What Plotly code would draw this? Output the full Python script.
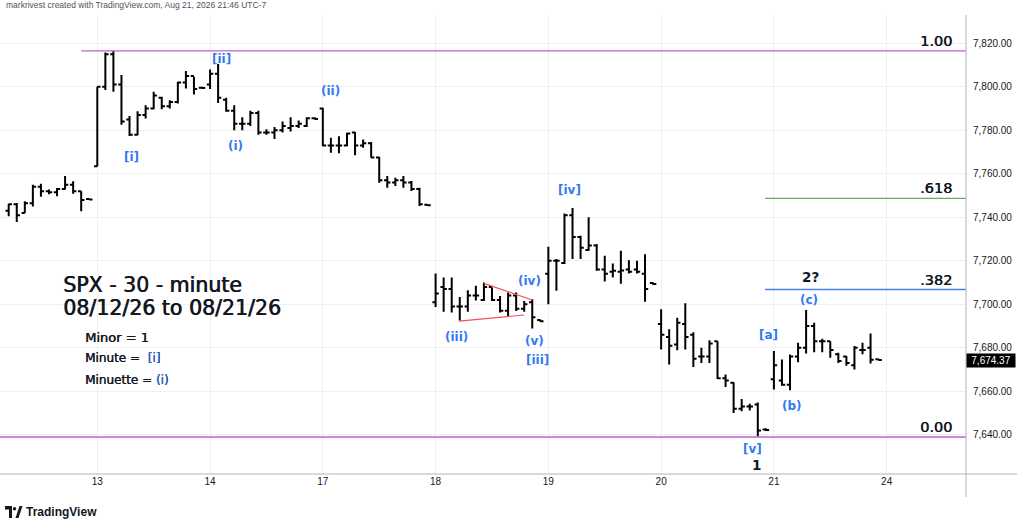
import plotly.graph_objects as go

# ---------------- data ----------------
day_labels = ["13", "14", "17", "18", "19", "20", "21", "24"]
day_tick_index = [11, 25, 39, 53, 67, 81, 95, 109]
y_ticks = [7640, 7660, 7680, 7700, 7720, 7740, 7760, 7780, 7800, 7820]

# 30-minute bars, Aug 12 (partial) .. Aug 21
opens = [
    7743, 7746, 7742, 7746.5, 7754, 7752, 7751.5, 7753, 7755, 7752, 7748.4,
    7763.5, 7800, 7815, 7801, 7785, 7778, 7787, 7790, 7795, 7791, 7793, 7802, 7805, 7799.5,
    7801, 7806, 7794, 7789, 7783, 7783, 7788, 7779, 7779, 7780, 7781, 7782, 7782, 7785.5,
    7790, 7773, 7773, 7773, 7779, 7773, 7774, 7767.5, 7757, 7756, 7757, 7756, 7753, 7745.8,
    7701, 7708, 7707, 7699, 7699, 7704, 7702, 7708, 7702, 7697, 7704, 7698, 7701, 7692.8,
    7714, 7720, 7719, 7741, 7731, 7725, 7727, 7716, 7715, 7715, 7716, 7716, 7714, 7709.8,
    7691, 7685, 7681.5, 7691, 7686, 7676, 7676, 7683, 7666, 7664, 7652, 7653, 7654, 7642.5,
    7665.5, 7665, 7663, 7676, 7680, 7690, 7683, 7683, 7677, 7676, 7672, 7679, 7680, 7674.8,
]
highs = [
    7746.2, 7746.6, 7747.4, 7755, 7755.4, 7752.8, 7753.5, 7759, 7756.6, 7752, 7748.6,
    7800, 7815.8, 7816.5, 7805.4, 7786.6, 7788.8, 7791.5, 7797.7, 7795.4, 7793.8, 7802.3, 7807.2, 7804.6, 7800,
    7808, 7810.5, 7795, 7791.5, 7786, 7789, 7789, 7780.5, 7781.5, 7784, 7786, 7784.5, 7786, 7786,
    7790.4, 7776.6, 7777.3, 7778.9, 7779.2, 7775.8, 7774.6, 7767.8, 7759, 7758.2, 7759, 7756.7, 7753.6, 7746,
    7714.2, 7712.3, 7712.3, 7703.4, 7706.5, 7708.5, 7710, 7707.7, 7703.8, 7705.4, 7705.4, 7701.5, 7702.3, 7693,
    7726.5, 7720.8, 7741.8, 7744.3, 7731.5, 7740, 7727.7, 7722.3, 7718.8, 7724.6, 7720.3, 7720, 7723, 7710,
    7697.7, 7688.5, 7693.8, 7700.5, 7687.2, 7680, 7683.5, 7683, 7667.7, 7664.2, 7656.5, 7654.3, 7654.9, 7643,
    7678.5, 7674.6, 7676.9, 7682.3, 7697.4, 7691.5, 7684.2, 7683, 7677.7, 7676.2, 7680.8, 7682.3, 7686.6, 7675,
]
lows = [
    7740.5, 7737.8, 7742, 7745, 7749.4, 7750.6, 7749.7, 7752.8, 7750.8, 7742.8, 7748,
    7763.5, 7798.5, 7797.7, 7782.6, 7777.4, 7777.7, 7785.4, 7789.7, 7789.7, 7790, 7792.3, 7799.2, 7796.5, 7799,
    7799, 7792.5, 7788.5, 7780, 7780, 7782, 7778, 7778, 7776, 7779, 7779.5, 7781, 7781.5, 7785,
    7772.7, 7769.7, 7769.4, 7772.7, 7768.5, 7772, 7767.4, 7755.9, 7753.6, 7754.4, 7753.6, 7752.1, 7745.2, 7745.2,
    7698.8, 7696.6, 7696.2, 7692.6, 7696.6, 7701.8, 7701.5, 7701.5, 7696.2, 7694.6, 7696.9, 7696.6, 7688.9, 7692,
    7700, 7706.2, 7718.5, 7720.8, 7720.8, 7724.6, 7715.4, 7710.5, 7712.3, 7709.5, 7714.2, 7714.2, 7701.2, 7709,
    7679.2, 7672.3, 7678.9, 7679.2, 7671.2, 7673, 7673, 7665.7, 7662, 7650, 7650.8, 7651.2, 7639.2, 7641.8,
    7660.8, 7662.6, 7660.5, 7673.4, 7677.4, 7678, 7678, 7675.4, 7673, 7671.8, 7670, 7677, 7672.8, 7674.2,
]
closes = [
    7746, 7741, 7746.5, 7754, 7752, 7751.5, 7753, 7755, 7752, 7748, 7748.2,
    7800, 7815, 7801, 7784, 7778, 7787, 7790, 7796, 7791, 7793, 7802, 7805, 7799, 7799.4,
    7806, 7795, 7789, 7783, 7783, 7788, 7779, 7779, 7780, 7782, 7782, 7783, 7785.5, 7785.2,
    7773, 7773, 7773, 7778.5, 7773, 7774, 7767.5, 7757, 7756, 7757, 7756, 7753, 7746, 7745.5,
    7705, 7707, 7699, 7699, 7704, 7704, 7708, 7702, 7697, 7704, 7698, 7700, 7694, 7692.2,
    7720, 7720, 7741, 7731, 7726, 7727, 7716, 7714, 7715.4, 7715.5, 7715, 7715, 7707, 7709.3,
    7686, 7681, 7691.5, 7685, 7675, 7676, 7682, 7666, 7665, 7652, 7653, 7653, 7642, 7642.2,
    7672, 7663, 7676, 7680, 7690, 7683, 7683, 7679, 7674, 7673, 7680, 7679, 7674.5, 7674.37,
]
last_price = 7674.37

fib_levels = [1.00, 0.618, 0.382, 0.00]
fib_labels = ["1.00", ".618", ".382", "0.00"]
fib_high = 7816.5
fib_low = 7639.0

wave_text = ["[i]", "[ii]", "(i)", "(ii)", "(iii)", "(iv)", "(v)", "[iii]", "[iv]",
             "[v]", "[a]", "(b)", "(c)"]
wave_x = [15.2, 26.4, 28.2, 39.9, 55.6, 64.7, 65.3, 65.6, 69.6, 92.4, 94.3, 97.3, 99.3]
wave_y = [7767.7, 7812.6, 7772.6, 7798.1, 7685.0, 7710.5, 7683.3, 7674.4, 7752.4,
          7633.3, 7685.9, 7653.3, 7701.9]
minor_text = ["2?", "1"]
minor_x = [99.6, 92.9]
minor_y = [7712.6, 7626.0]

# triangle (iv) trend lines: [x0, y0, x1, y1]
tri_upper = [59.0, 7709.6, 65.0, 7702.0]
tri_lower = [55.9, 7692.3, 64.0, 7695.1]

# ---------------- figure ----------------
W, H = 1023, 530
ML, MR, MT, MB = 0, 57, 15, 56
PW, PH = W - ML - MR, H - MT - MB
X_RANGE = [-1.08, 118.85]
Y_RANGE = [7622.0, 7833.0]


def px(xp):
    return (xp - ML) / PW


def py(yp):
    return (H - MB - yp) / PH


BLUE = "#3179f5"
INK = "#131722"
FONT = "DejaVu Sans"
THICK = "0.5px 0 0 %s" % INK

xs = list(range(len(opens)))
fig = go.Figure(go.Ohlc(
    x=xs, open=opens, high=highs, low=lows, close=closes,
    increasing=dict(line=dict(color="#000000", width=2)),
    decreasing=dict(line=dict(color="#000000", width=2)),
    tickwidth=0.4, hoverinfo="skip",
))

shapes = []
fib_colors = ["#bf5fca", "#5fb05f", "#4d7fe8", "#bf5fca"]
fib_x0 = [9.0, 93.9, 93.9, X_RANGE[0]]
for lvl, col, x0 in zip(fib_levels, fib_colors, fib_x0):
    yv = fib_low + lvl * (fib_high - fib_low)
    shapes.append(dict(type="line", xref="x", yref="y", x0=x0, x1=X_RANGE[1],
                       y0=yv, y1=yv, line=dict(color=col, width=1.3)))
for seg in (tri_upper, tri_lower):
    shapes.append(dict(type="line", xref="x", yref="y", x0=seg[0], y0=seg[1],
                       x1=seg[2], y1=seg[3], line=dict(color="#f0505a", width=1.2)))

# axis frame lines
shapes.append(dict(type="line", xref="paper", yref="paper", x0=px(0), x1=px(1017),
                   y0=py(474), y1=py(474), line=dict(color="#b0b3ba", width=1)))
shapes.append(dict(type="line", xref="paper", yref="paper", x0=px(966), x1=px(966),
                   y0=py(15), y1=py(497), line=dict(color="#b0b3ba", width=1)))

# TradingView logo (approximate glyph)
logo_T = "M {a},{b} L {c},{b} L {c},{d} L {e},{d} L {e},{f} L {a},{f} Z".format(
    a=px(5), b=py(506), c=px(12), d=py(518), e=px(9), f=py(509.5))
shapes.append(dict(type="path", xref="paper", yref="paper", path=logo_T,
                   fillcolor=INK, line=dict(width=0)))
shapes.append(dict(type="circle", xref="paper", yref="paper", x0=px(12.8), x1=px(16.2),
                   y0=py(510.5), y1=py(507.1), fillcolor=INK, line=dict(width=0)))
logo_S = "M {a},{b} L {c},{d} L {e},{d} L {f},{b} Z".format(
    a=px(15.5), b=py(518), c=px(19.5), d=py(506), e=px(22.5), f=px(18.5))
shapes.append(dict(type="path", xref="paper", yref="paper", path=logo_S,
                   fillcolor=INK, line=dict(width=0)))

ann = []
for t, x, y in zip(wave_text, wave_x, wave_y):
    ann.append(dict(x=x, y=y, xref="x", yref="y", text="<b>%s</b>" % t, showarrow=False,
                    font=dict(family=FONT, size=12, color=BLUE)))
for t, x, y in zip(minor_text, minor_x, minor_y):
    ann.append(dict(x=x, y=y, xref="x", yref="y", text="<b>%s</b>" % t, showarrow=False,
                    font=dict(family=FONT, size=13.5, color=INK)))
for lvl, lab in zip(fib_levels, fib_labels):
    yv = fib_low + lvl * (fib_high - fib_low)
    ann.append(dict(x=px(954), y=yv, xref="paper", yref="y", text=lab, showarrow=False,
                    xanchor="right", yanchor="bottom", yshift=0,
                    font=dict(family=FONT, size=14.5, color=INK, shadow=THICK)))

# title block
ann.append(dict(x=px(61), y=py(285), xref="paper", yref="paper", text="SPX - 30 - minute",
                showarrow=False, xanchor="left", yanchor="middle",
                font=dict(family=FONT, size=20.5, color=INK, shadow="0.7px 0 0 %s" % INK)))
ann.append(dict(x=px(61), y=py(308), xref="paper", yref="paper", text="08/12/26 to 08/21/26",
                showarrow=False, xanchor="left", yanchor="middle",
                font=dict(family=FONT, size=20.5, color=INK, shadow="0.7px 0 0 %s" % INK)))
ann.append(dict(x=px(83), y=py(337), xref="paper", yref="paper", text="Minor = 1",
                showarrow=False, xanchor="left", yanchor="middle",
                font=dict(family=FONT, size=13, color=INK, shadow=THICK)))
ann.append(dict(x=px(83), y=py(358), xref="paper", yref="paper",
                text="Minute =  <span style='color:%s'>[i]</span>" % BLUE,
                showarrow=False, xanchor="left", yanchor="middle",
                font=dict(family=FONT, size=12, color=INK, shadow="0.4px 0 0 %s" % INK)))
ann.append(dict(x=px(83), y=py(380), xref="paper", yref="paper",
                text="Minuette = <span style='color:%s'>(i)</span>" % BLUE,
                showarrow=False, xanchor="left", yanchor="middle",
                font=dict(family=FONT, size=12, color=INK, shadow="0.4px 0 0 %s" % INK)))

# last price tag
ann.append(dict(x=px(966), y=last_price, xref="paper", yref="y",
                text="{:,.2f}".format(last_price), showarrow=False,
                xanchor="left", yanchor="middle", bgcolor="#000000", borderpad=1, width=46,
                font=dict(family="Liberation Sans", size=10, color="#ffffff")))

# header & footer
ann.append(dict(x=px(4), y=py(5), xref="paper", yref="paper",
                text="markrivest created with TradingView.com, Aug 21, 2026 21:46 UTC-7",
                showarrow=False, xanchor="left", yanchor="middle",
                font=dict(family="Liberation Sans", size=8.5, color="#50535e")))
ann.append(dict(x=px(24), y=py(512), xref="paper", yref="paper",
                text="<b>TradingView</b>", showarrow=False, xanchor="left", yanchor="middle",
                font=dict(family="Liberation Sans", size=12, color=INK)))

fig.update_layout(
    width=W, height=H, margin=dict(l=ML, r=MR, t=MT, b=MB),
    paper_bgcolor="white", plot_bgcolor="white", showlegend=False,
    shapes=shapes, annotations=ann,
    xaxis=dict(range=X_RANGE, tickvals=day_tick_index, ticktext=day_labels,
               showgrid=True, gridcolor="#eef0f3", gridwidth=1, zeroline=False,
               showline=False, ticks="", rangeslider=dict(visible=False),
               tickfont=dict(family="Liberation Sans", size=10, color=INK)),
    yaxis=dict(side="right", range=Y_RANGE, tickvals=y_ticks, tickformat=",.2f",
               showgrid=True, gridcolor="#eef0f3", gridwidth=1, zeroline=False,
               showline=False, ticks="", ticklabelstandoff=6,
               tickfont=dict(family="Liberation Sans", size=10, color=INK)),
)

fig.write_html("out.html", config={"displayModeBar": False},
               post_script="document.body.style.margin='0';document.body.style.overflow='hidden';")
